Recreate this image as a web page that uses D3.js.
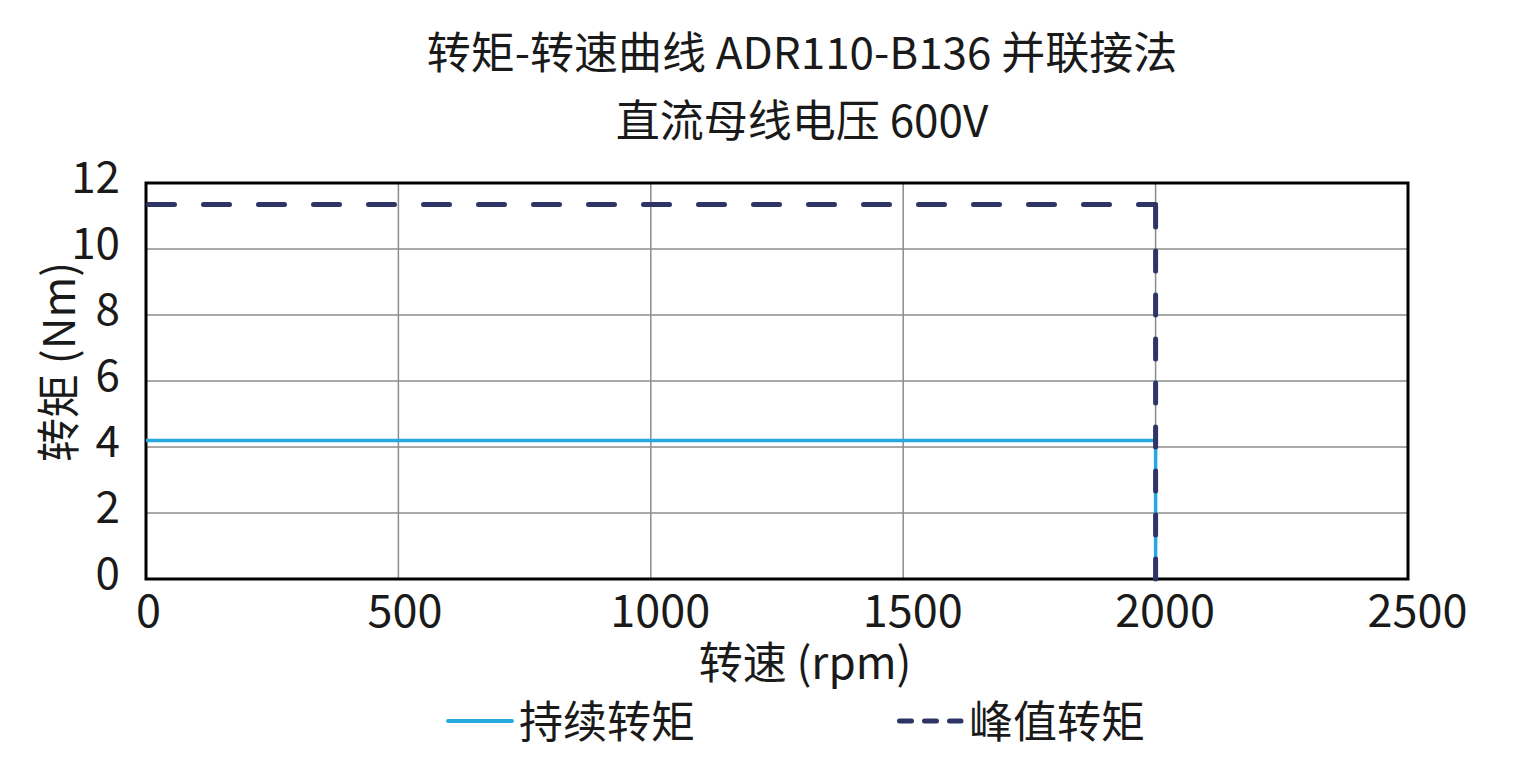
<!DOCTYPE html>
<html><head><meta charset="utf-8">
<script src="https://cdn.jsdelivr.net/npm/d3@7"></script>
<style>body{margin:0;background:#fff}svg{display:block}text{font-family:"Noto Sans CJK SC","Noto Sans",sans-serif;fill:#1a1a1a}</style>
</head><body><svg id="c" width="1533" height="760"></svg>
<script>
const titleLines = ["转矩-转速曲线 ADR110-B136 并联接法", "直流母线电压 600V"];
const xTicks = [0, 500, 1000, 1500, 2000, 2500];
const yTicks = [0, 2, 4, 6, 8, 10, 12];
const continuousSpeed = [0, 2000, 2000];
const continuousTorque = [4.2, 4.2, 0];
const peakSpeed = [0, 2000, 2000];
const peakTorque = [11.35, 11.35, 0];
const seriesNames = ["持续转矩", "峰值转矩"];
const xLabel = "转速 (rpm)";
const yLabel = "转矩 (Nm)";

const FS = 44;
const svg = d3.select("#c");
const L = 146, R = 1408, T = 183, B = 579;
const x = d3.scaleLinear().domain([0, 2500]).range([L, R]);
const y = d3.scaleLinear().domain([0, 12]).range([B, T]);

// titles
svg.selectAll("text.title").data(titleLines).enter().append("text")
  .attr("x", 802).attr("y", (d,i)=> 69 + i*68).attr("text-anchor","middle")
  .attr("font-size", FS).text(d=>d);

// grid
svg.append("g").selectAll("line").data(xTicks.slice(1,-1)).enter().append("line")
  .attr("x1", d=>x(d)).attr("x2", d=>x(d)).attr("y1", T).attr("y2", B)
  .attr("stroke", "#8c8c8c").attr("stroke-width", 1.5);
svg.append("g").selectAll("line").data(yTicks.slice(1,-1)).enter().append("line")
  .attr("x1", L).attr("x2", R).attr("y1", d=>y(d)).attr("y2", d=>y(d))
  .attr("stroke", "#8c8c8c").attr("stroke-width", 1.5);

// axes with d3
const xa = svg.append("g").attr("transform", `translate(0,${B})`)
  .call(d3.axisBottom(x).tickValues(xTicks).tickSize(0).tickPadding(48).tickFormat(d3.format("d")));
const ya = svg.append("g").attr("transform", `translate(${L},0)`)
  .call(d3.axisLeft(y).tickValues(yTicks).tickSize(0).tickPadding(26).tickFormat(d3.format("d")));
[xa, ya].forEach(a => {
  a.select(".domain").remove();
  a.selectAll("text").attr("font-size", FS).attr("fill", "#1a1a1a")
   .style("font-family", '"Noto Sans CJK SC","Noto Sans",sans-serif');
});
xa.selectAll("text").attr("dy", "0").attr("font-size", 45)
  .attr("dx", d => { const n = String(d).length; return n === 1 ? 2 : (n === 3 ? 6 : 9); });
ya.selectAll("text").attr("dy", "0.22em");

// frame
svg.append("rect").attr("x", L).attr("y", T).attr("width", R-L).attr("height", B-T)
  .attr("fill", "none").attr("stroke", "#000").attr("stroke-width", 3);

// continuous
const line = d3.line().x(d=>x(d[0])).y(d=>y(d[1]));
const cont = continuousSpeed.map((s,i)=>[s, continuousTorque[i]]);
svg.append("path").attr("d", line(cont)).attr("fill","none")
  .attr("stroke", "#27a9df").attr("stroke-width", 3.5);

// peak (horizontal and vertical segments)
const peak = peakSpeed.map((s,i)=>[s, peakTorque[i]]);
svg.append("path").attr("d", line(peak.slice(0,2))).attr("fill","none")
  .attr("stroke", "#2e3466").attr("stroke-width", 5).attr("stroke-linecap","round")
  .attr("stroke-dasharray", "26,29").attr("stroke-dashoffset", -2.5);
svg.append("path").attr("d", line(peak.slice(1,3))).attr("fill","none")
  .attr("stroke", "#2e3466").attr("stroke-width", 5).attr("stroke-linecap","round")
  .attr("stroke-dasharray", "20,24").attr("stroke-dashoffset", -2.5);

// axis labels
svg.append("text").attr("x", 805).attr("y", 679).attr("text-anchor","middle")
  .attr("font-size", FS).text(xLabel);
svg.append("text").attr("transform", "translate(75,362) rotate(-90)").attr("text-anchor","middle")
  .attr("font-size", FS).text(yLabel);

// legend
const lg = svg.append("g");
lg.append("line").attr("x1", 448).attr("x2", 512).attr("y1", 721).attr("y2", 721)
  .attr("stroke", "#27a9df").attr("stroke-width", 4).attr("stroke-linecap","round");
lg.append("text").attr("x", 519).attr("y", 738).attr("font-size", FS).text(seriesNames[0]);
lg.append("line").attr("x1", 899.5).attr("x2", 961).attr("y1", 721).attr("y2", 721)
  .attr("stroke", "#2e3466").attr("stroke-width", 5).attr("stroke-linecap","round")
  .attr("stroke-dasharray", "12,13");
lg.append("text").attr("x", 969).attr("y", 738).attr("font-size", FS).text(seriesNames[1]);
</script></body></html>
